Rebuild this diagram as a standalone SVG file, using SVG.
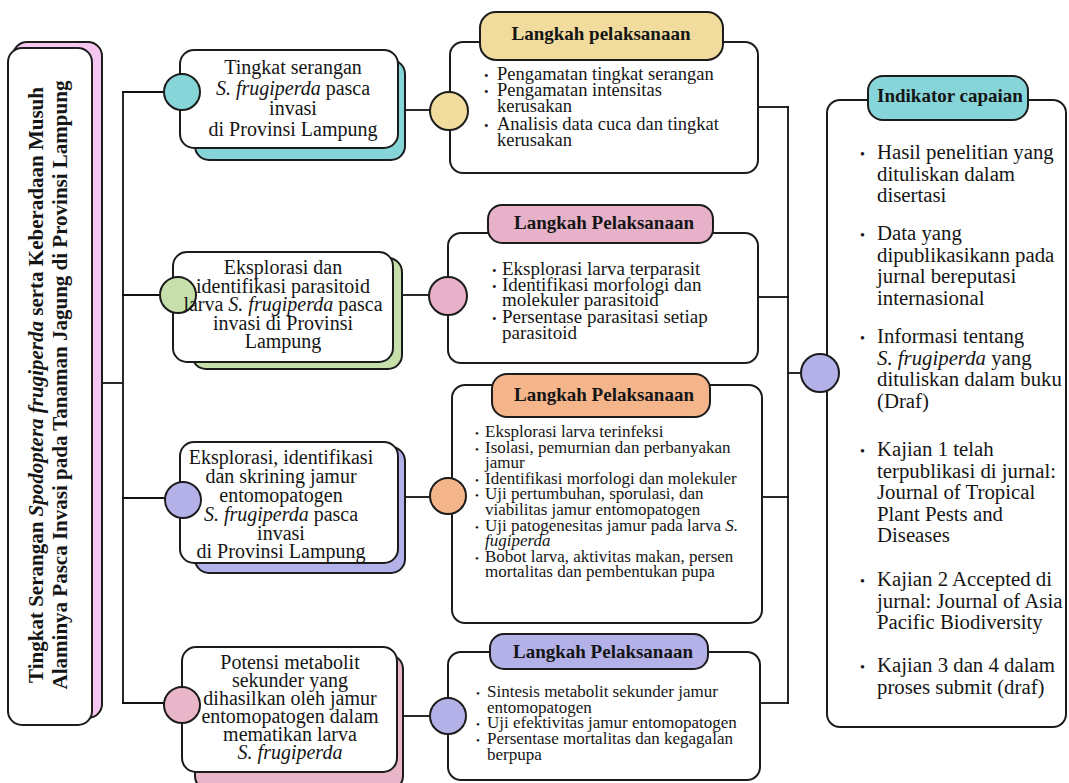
<svg xmlns="http://www.w3.org/2000/svg" width="1069" height="783" viewBox="0 0 1069 783">
<style>
.t{font-family:"Liberation Serif","Times New Roman",serif;fill:#151515}
.b{font-weight:bold}
.i{font-style:italic}
.box{fill:#fff;stroke:#1c1c1c;stroke-width:2}
.sh{stroke:#1c1c1c;stroke-width:2}
.dot{stroke:#1c1c1c;stroke-width:2}
.conn{stroke:#111;stroke-width:1.8;fill:none}
.lc{font-size:20px;text-anchor:middle}
.mid{font-size:18.5px}
.sm{font-size:17px}
.rt{font-size:20.8px}
.pl{font-size:19px;font-weight:bold;text-anchor:middle}
</style>
<rect width="1069" height="783" fill="#fff"/>

<g id="connectors">
<line class="conn" x1="102" y1="383" x2="123" y2="383"/>
<line class="conn" x1="123" y1="92" x2="123" y2="704"/>
<line class="conn" x1="122" y1="92" x2="166" y2="92"/>
<line class="conn" x1="122" y1="295" x2="162" y2="295"/>
<line class="conn" x1="122" y1="498" x2="166" y2="498"/>
<line class="conn" x1="122" y1="703" x2="166" y2="703"/>
<line class="conn" x1="405" y1="110" x2="432" y2="110"/>
<line class="conn" x1="402" y1="295" x2="431" y2="295"/>
<line class="conn" x1="405" y1="497" x2="431" y2="497"/>
<line class="conn" x1="403" y1="716" x2="431" y2="716"/>
<line class="conn" x1="758" y1="107" x2="789" y2="107"/>
<line class="conn" x1="758" y1="297" x2="789" y2="297"/>
<line class="conn" x1="762" y1="497" x2="789" y2="497"/>
<line class="conn" x1="760" y1="703" x2="789" y2="703"/>
<line class="conn" x1="788" y1="106" x2="788" y2="704"/>
<line class="conn" x1="788" y1="373" x2="802" y2="373"/>
</g>

<g id="title">
<rect class="sh" x="13" y="42" width="89" height="676" rx="14" fill="#f5c6ef"/>
<rect class="box" x="8" y="48" width="84" height="677" rx="14"/>
<text class="t b" font-size="21" text-anchor="middle" transform="translate(43,385) rotate(-90)">Tingkat Serangan <tspan class="i">Spodoptera frugiperda</tspan> serta Keberadaan Musuh</text>
<text class="t b" font-size="21" text-anchor="middle" transform="translate(67,385) rotate(-90)">Alaminya Pasca Invasi pada Tanaman Jagung di Provinsi Lampung</text>
</g>

<g id="left1">
<rect class="sh" x="195" y="60" width="210" height="100" rx="14" fill="#86d5d8"/>
<rect class="box" x="180" y="50" width="218" height="98" rx="14"/>
<circle class="dot" cx="182" cy="92" r="18" fill="#86d5d8"/>
<text class="t lc" x="293" y="74">Tingkat serangan</text>
<text class="t lc" x="293" y="94.5"><tspan class="i">S. frugiperda</tspan> pasca</text>
<text class="t lc" x="293" y="115">invasi</text>
<text class="t lc" x="293" y="135.5">di Provinsi Lampung</text>
</g>

<g id="left2">
<rect class="sh" x="192" y="258" width="210" height="111" rx="14" fill="#c6dfab"/>
<rect class="box" x="173" y="252" width="220" height="110" rx="14"/>
<circle class="dot" cx="178" cy="295" r="18" fill="#c6dfab"/>
<text class="t lc" x="283" y="274">Eksplorasi dan</text>
<text class="t lc" x="283" y="292.5">identifikasi parasitoid</text>
<text class="t lc" x="283" y="311">larva <tspan class="i">S. frugiperda</tspan> pasca</text>
<text class="t lc" x="283" y="329.5">invasi di Provinsi</text>
<text class="t lc" x="283" y="348">Lampung</text>
</g>

<g id="left3">
<rect class="sh" x="195" y="447" width="210" height="126" rx="14" fill="#b4b1e8"/>
<rect class="box" x="180" y="442" width="218" height="121" rx="14"/>
<circle class="dot" cx="183" cy="500" r="18" fill="#b4b1e8"/>
<text class="t lc" x="281" y="464">Eksplorasi, identifikasi</text>
<text class="t lc" x="281" y="483">dan skrining jamur</text>
<text class="t lc" x="281" y="502">entomopatogen</text>
<text class="t lc" x="281" y="521"><tspan class="i">S. frugiperda</tspan> pasca</text>
<text class="t lc" x="281" y="540">invasi</text>
<text class="t lc" x="281" y="558">di Provinsi Lampung</text>
</g>

<g id="left4">
<rect class="sh" x="195" y="655" width="208" height="135" rx="14" fill="#e8b5c9"/>
<rect class="box" x="182" y="647" width="215" height="125" rx="14"/>
<circle class="dot" cx="182" cy="705" r="18" fill="#e8b5c9"/>
<text class="t lc" x="290" y="669">Potensi metabolit</text>
<text class="t lc" x="290" y="687">sekunder yang</text>
<text class="t lc" x="290" y="705">dihasilkan oleh jamur</text>
<text class="t lc" x="290" y="723">entomopatogen dalam</text>
<text class="t lc" x="290" y="741">mematikan larva</text>
<text class="t lc i" x="290" y="759">S. frugiperda</text>
</g>

<g id="mid1">
<rect class="box" x="450" y="42" width="308" height="131" rx="13"/>
<rect class="dot" x="480" y="12" width="243" height="48" rx="16" fill="#f1dc9d"/>
<text class="t pl" x="601" y="40">Langkah pelaksanaan</text>
<circle class="dot" cx="449" cy="111" r="19" fill="#f1dc9d"/>
<g class="t mid">
<text x="484" y="80" font-size="13">•</text><text x="497" y="80">Pengamatan tingkat serangan</text>
<text x="484" y="96" font-size="13">•</text><text x="497" y="96">Pengamatan intensitas</text>
<text x="497" y="112">kerusakan</text>
<text x="484" y="130" font-size="13">•</text><text x="497" y="130">Analisis data cuca dan tingkat</text>
<text x="497" y="146">kerusakan</text>
</g>
</g>

<g id="mid2">
<rect class="box" x="448" y="233" width="310" height="130" rx="13"/>
<rect class="dot" x="488" y="205" width="225" height="38" rx="14" fill="#e7b2c9"/>
<text class="t pl" x="604" y="229">Langkah Pelaksanaan</text>
<circle class="dot" cx="448" cy="296" r="19" fill="#e7b2c9"/>
<g class="t" font-size="19">
<text x="492" y="275" font-size="13">•</text><text x="502" y="275">Eksplorasi larva terparasit</text>
<text x="492" y="290.5" font-size="13">•</text><text x="502" y="290.5">Identifikasi morfologi dan</text>
<text x="502" y="306">molekuler parasitoid</text>
<text x="492" y="323" font-size="13">•</text><text x="502" y="323">Persentase parasitasi setiap</text>
<text x="502" y="338.5">parasitoid</text>
</g>
</g>

<g id="mid3">
<rect class="box" x="452" y="385" width="310" height="238" rx="13"/>
<rect class="dot" x="492" y="374" width="218" height="43" rx="15" fill="#f5b58b"/>
<text class="t pl" x="604" y="401">Langkah Pelaksanaan</text>
<circle class="dot" cx="448" cy="496" r="18" fill="#f5b58b"/>
<g class="t sm">
<text x="475" y="437" font-size="11">•</text><text x="485" y="437">Eksplorasi larva terinfeksi</text>
<text x="475" y="452.6" font-size="11">•</text><text x="485" y="452.6">Isolasi, pemurnian dan perbanyakan</text>
<text x="485" y="468.2">jamur</text>
<text x="475" y="483.8" font-size="11">•</text><text x="485" y="483.8">Identifikasi morfologi dan molekuler</text>
<text x="475" y="499.4" font-size="11">•</text><text x="485" y="499.4">Uji pertumbuhan, sporulasi, dan</text>
<text x="485" y="515">viabilitas jamur entomopatogen</text>
<text x="475" y="530.6" font-size="11">•</text><text x="485" y="530.6">Uji patogenesitas jamur pada larva <tspan class="i">S.</tspan></text>
<text x="485" y="546.2" class="i">fugiperda</text>
<text x="475" y="561.8" font-size="11">•</text><text x="485" y="561.8">Bobot larva, aktivitas makan, persen</text>
<text x="485" y="577.4">mortalitas dan pembentukan pupa</text>
</g>
</g>

<g id="mid4">
<rect class="box" x="448" y="652" width="312" height="128" rx="13"/>
<rect class="dot" x="490" y="634" width="218" height="35" rx="14" fill="#b4b1e8"/>
<text class="t pl" x="603" y="658">Langkah Pelaksanaan</text>
<circle class="dot" cx="448" cy="716" r="18" fill="#b4b1e8"/>
<g class="t sm">
<text x="476" y="697" font-size="11">•</text><text x="487" y="697">Sintesis metabolit sekunder jamur</text>
<text x="487" y="712.5">entomopatogen</text>
<text x="476" y="728" font-size="11">•</text><text x="487" y="728">Uji efektivitas jamur entomopatogen</text>
<text x="476" y="744" font-size="11">•</text><text x="487" y="744">Persentase mortalitas dan kegagalan</text>
<text x="487" y="759.5">berpupa</text>
</g>
</g>

<g id="right">
<rect class="box" x="827" y="100" width="239" height="627" rx="13"/>
<rect class="dot" x="868" y="76" width="160" height="44" rx="15" fill="#86d5d8"/>
<text class="t pl" x="950" y="102">Indikator capaian</text>
<circle class="dot" cx="820" cy="373" r="19" fill="#b4b1e8"/>
<g class="t rt">
<text x="860" y="159" font-size="14">•</text><text x="877" y="159">Hasil penelitian yang</text>
<text x="877" y="180.5">dituliskan dalam</text>
<text x="877" y="202">disertasi</text>
<text x="860" y="240" font-size="14">•</text><text x="877" y="240">Data yang</text>
<text x="877" y="261.5">dipublikasikann pada</text>
<text x="877" y="283">jurnal bereputasi</text>
<text x="877" y="304.5">internasional</text>
<text x="860" y="343" font-size="14">•</text><text x="877" y="343">Informasi tentang</text>
<text x="877" y="364.5"><tspan class="i">S. frugiperda</tspan> yang</text>
<text x="877" y="386">dituliskan dalam buku</text>
<text x="877" y="407.5">(Draf)</text>
<text x="860" y="456" font-size="14">•</text><text x="877" y="456">Kajian 1 telah</text>
<text x="877" y="477.5">terpublikasi di jurnal:</text>
<text x="877" y="499">Journal of Tropical</text>
<text x="877" y="520.5">Plant Pests and</text>
<text x="877" y="542">Diseases</text>
<text x="860" y="586" font-size="14">•</text><text x="877" y="586">Kajian 2 Accepted di</text>
<text x="877" y="607.5">jurnal: Journal of Asia</text>
<text x="877" y="629">Pacific Biodiversity</text>
<text x="860" y="672" font-size="14">•</text><text x="877" y="672">Kajian 3 dan 4 dalam</text>
<text x="877" y="693.5">proses submit (draf)</text>
</g>
</g>
</svg>
